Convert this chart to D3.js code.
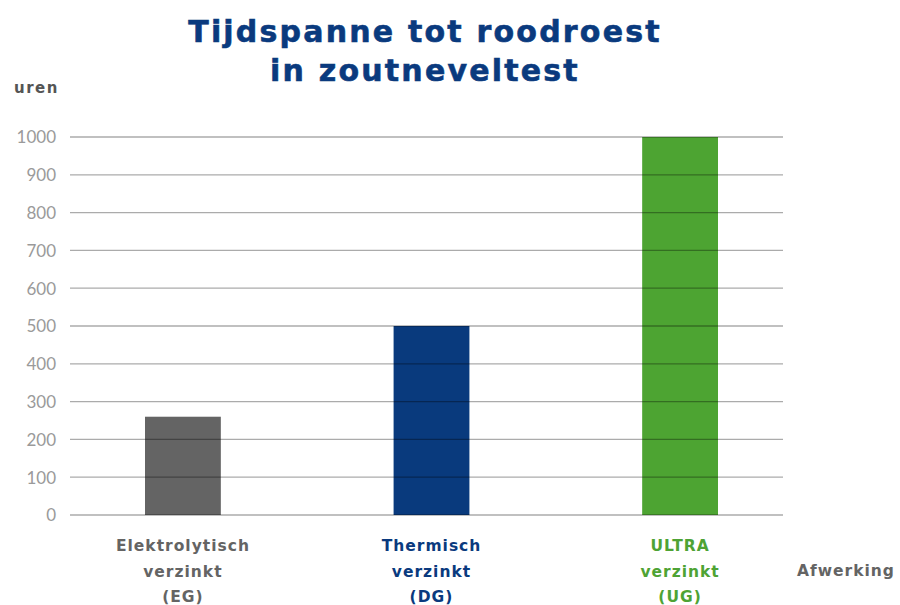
<!DOCTYPE html>
<html><head><meta charset="utf-8">
<script src="https://cdn.jsdelivr.net/npm/d3@7"></script>
<style>body{margin:0;background:#fff}svg{display:block}</style>
</head><body>
<svg id="c" width="900" height="605"></svg>
<script>
const categories = ["EG", "DG", "UG"];
const labelLines = [["Elektrolytisch","verzinkt","(EG)"],["Thermisch","verzinkt","(DG)"],["ULTRA","verzinkt","(UG)"]];
const values = [260, 500, 1000];
const colors = ["#646464", "#093a7d", "#4da432"];
const labelColors = ["#646464", "#0a3a7e", "#4ea334"];
const yTicks = [0,100,200,300,400,500,600,700,800,900,1000];
const titleLines = ["Tijdspanne tot roodroest", "in zoutneveltest"];

const svg = d3.select("#c");
const y = d3.scaleLinear().domain([0,1000]).range([515,137]);
const x = d3.scaleBand().domain(categories).range([58,805]).paddingInner(0.695).paddingOuter(0.35);

// bars
svg.selectAll("rect.bar").data(values).join("rect")
  .attr("x",(d,i)=>x(categories[i])).attr("width",x.bandwidth())
  .attr("y",d=>y(d)).attr("height",d=>y(0)-y(d)).attr("fill",(d,i)=>colors[i]);

// axis labels + gridlines on top
const yAxis = d3.axisLeft(y).tickValues(yTicks).tickFormat(d3.format("d")).tickSize(0).tickPadding(0);
const g = svg.append("g").attr("transform","translate(56,0)").call(yAxis);
g.select(".domain").remove();
g.selectAll("text").attr("font-family","Lato, 'Open Sans', sans-serif").attr("font-size",17)
  .attr("fill","#9a9a9a").attr("font-weight",400).attr("dy","0.35em").attr("x",0);
svg.selectAll("line.grid").data(yTicks).join("line")
  .attr("x1",70).attr("x2",783).attr("y1",d=>y(d)).attr("y2",d=>y(d))
  .attr("stroke","#000").attr("stroke-opacity",0.33).attr("stroke-width",1.3);

// x labels
categories.forEach((c,i)=>{
  const t = svg.append("text").attr("text-anchor","middle")
    .attr("font-family","'DejaVu Sans', sans-serif").attr("font-weight","bold")
    .attr("font-size",15.5).attr("letter-spacing",1).attr("fill",labelColors[i]);
  labelLines[i].forEach((l,j)=>{
    t.append("tspan").attr("x",x(c)+x.bandwidth()/2).attr("y",551+j*25.5).text(l);
  });
});

svg.append("text").attr("x",797).attr("y",576).attr("font-family","'DejaVu Sans', sans-serif")
  .attr("font-weight","bold").attr("font-size",15.5).attr("letter-spacing",1).attr("fill","#646464").text("Afwerking");
svg.append("text").attr("x",14).attr("y",93).attr("font-family","'DejaVu Sans', sans-serif")
  .attr("font-weight","bold").attr("font-size",15).attr("letter-spacing",1.5).attr("fill","#555").text("uren");

// title
titleLines.forEach((l,i)=>{
  svg.append("text").attr("x",425).attr("y",42+i*39).attr("text-anchor","middle")
    .attr("font-family","'DejaVu Sans', sans-serif").attr("font-weight","bold")
    .attr("font-size",30).attr("letter-spacing",2.2).attr("fill","#0a3a7e")
    .attr("stroke","#0a3a7e").attr("stroke-width",0.6).text(l);
});
</script>
</body></html>
